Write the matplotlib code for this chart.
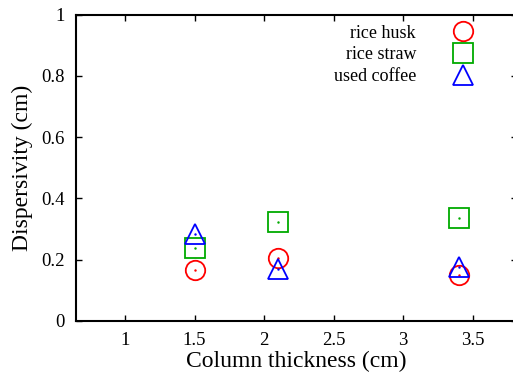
import matplotlib
matplotlib.use("Agg")
import matplotlib.pyplot as plt

plt.rcParams['font.family'] = ['Liberation Serif', 'DejaVu Serif']

thickness = [1.5, 2.1, 3.4]
rice_husk = [0.165, 0.205, 0.149]
rice_straw = [0.239, 0.322, 0.337]
used_coffee = [0.285, 0.170, 0.176]

series = [
    ("rice husk", rice_husk, "o", "#ff0000"),
    ("rice straw", rice_straw, "s", "#00aa00"),
    ("used coffee", used_coffee, "^", "#0000ff"),
]

fig = plt.figure(figsize=(5.13, 3.81), dpi=100)
ax = fig.add_axes([0.148, 0.1575, 0.86, 0.804])

for name, vals, mk, col in series:
    ax.plot(thickness, vals, linestyle="none", marker=mk, markersize=14,
            markerfacecolor="none", markeredgecolor=col, markeredgewidth=1.3,
            label=name)
    ax.plot(thickness, vals, linestyle="none", marker=".", markersize=1.5,
            color=col)

ax.set_xlim(0.646, 3.82)
ax.set_ylim(0, 1)
ax.set_xticks([1, 1.5, 2, 2.5, 3, 3.5])
ax.set_xticklabels(["1", "1.5", "2", "2.5", "3", "3.5"])
ax.set_yticks([0, 0.2, 0.4, 0.6, 0.8, 1])
ax.set_yticklabels(["0", "0.2", "0.4", "0.6", "0.8", "1"])
ax.tick_params(direction="in", top=True, right=True, length=4, width=1,
               labelsize=13.5, pad=8)
for sp in ax.spines.values():
    sp.set_linewidth(1.5)

ax.set_xlabel("Column thickness (cm)", fontsize=17, labelpad=1)
ax.set_ylabel("Dispersivity (cm)", fontsize=17, labelpad=6)

handles, labels = ax.get_legend_handles_labels()
ax.legend(handles, labels, loc="upper right", bbox_to_anchor=(0.955, 1.02),
          frameon=False, markerfirst=False, fontsize=13,
          handletextpad=1.6, labelspacing=0.25, numpoints=1)

fig.savefig("out.png", dpi=100)
